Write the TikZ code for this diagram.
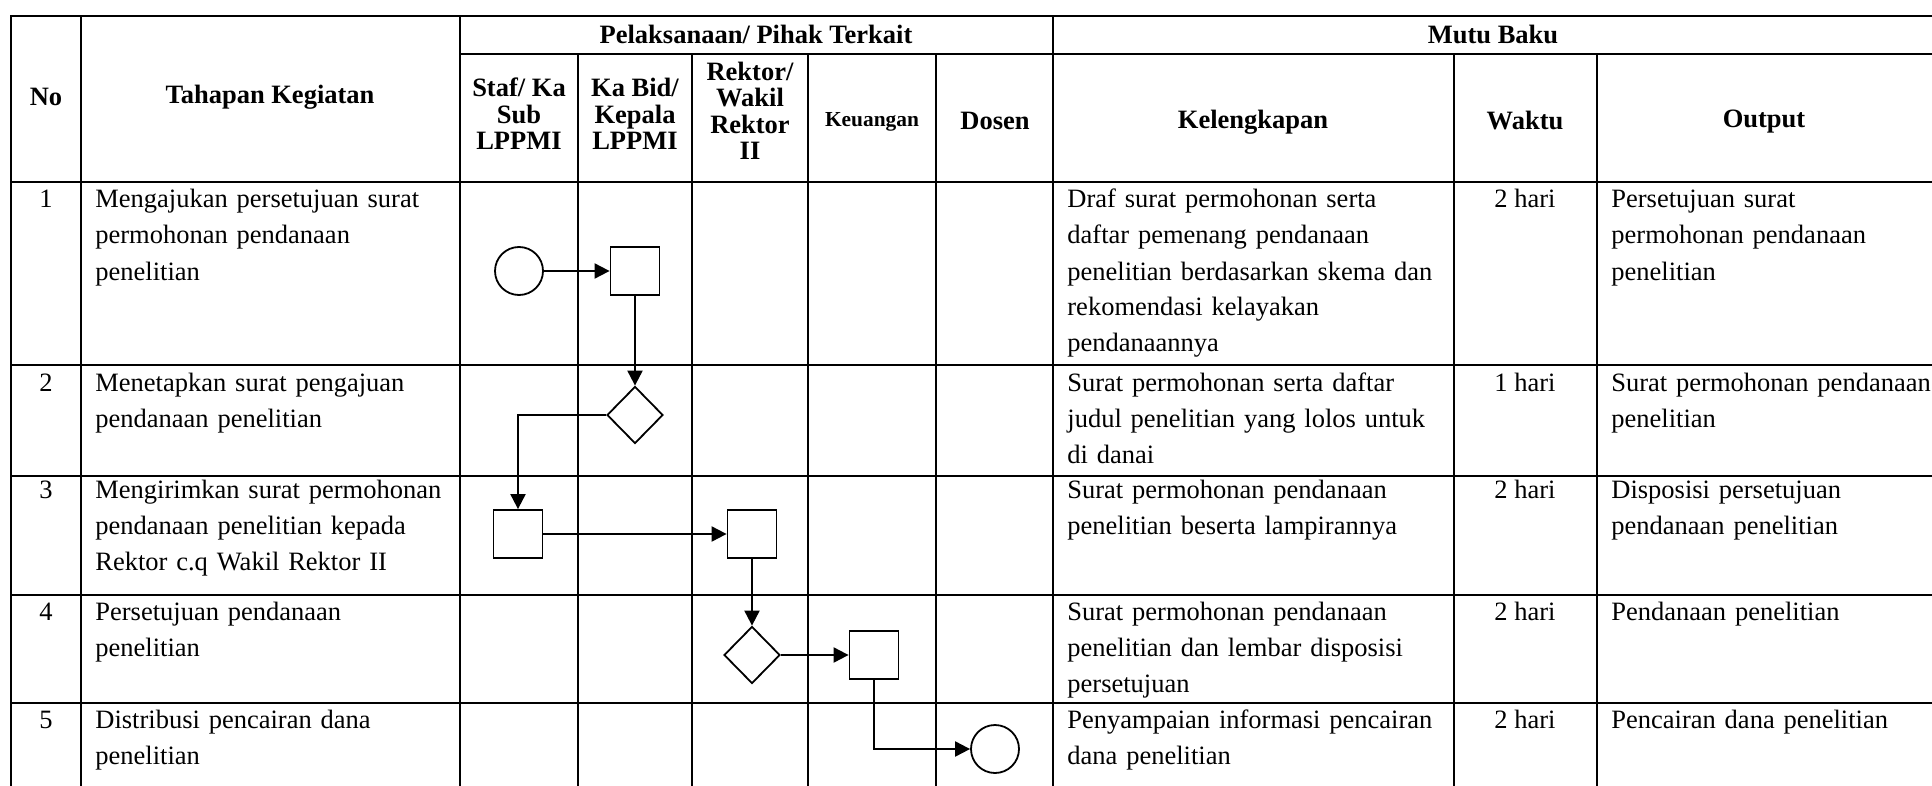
\documentclass[tikz,border=0pt]{standalone}
\usepackage{fontspec}
\setmainfont{Liberation Serif}
\usetikzlibrary{arrows.meta,shapes.geometric}
\newcommand\cellfont{\fontsize{13.25}{18}\selectfont}
\newcommand\headfont{\fontsize{13.25}{13.2}\selectfont\bfseries}
\newcommand\smallheadfont{\fontsize{10.7}{13}\selectfont\bfseries}
\begin{document}
\begin{tikzpicture}[x=0.5pt,y=-0.5pt,
  grid/.style={line width=1.2pt, line cap=rect},
  lefttext/.style={anchor=base west, text width=220pt, align=left, inner sep=0pt, font=\cellfont},
  midtext/.style={anchor=base, inner sep=0pt, font=\cellfont},
  headtext/.style={anchor=center, align=center, inner sep=0pt, font=\headfont},
  sq/.style={draw, line width=0.9pt, rectangle, minimum width=24.5pt, minimum height=24pt, inner sep=0pt},
  dia/.style={draw, line width=0.9pt, diamond, minimum width=28pt, minimum height=28.5pt, inner sep=0pt},
  circ/.style={draw, line width=0.9pt, circle, minimum size=24pt, inner sep=0pt},
  flow/.style={draw, line width=1pt, -{Triangle[length=7.5pt,width=7.5pt]}}
]
\useasboundingbox (0,0) rectangle (1932,786);
\fill[white] (0,0) rectangle (1932,786);

% horizontal lines
\draw[grid] (11,16) -- (1932,16);
\draw[grid] (460,54) -- (1932,54);
\draw[grid] (11,182) -- (1932,182);
\draw[grid] (11,365) -- (1932,365);
\draw[grid] (11,476) -- (1932,476);
\draw[grid] (11,595) -- (1932,595);
\draw[grid] (11,703) -- (1932,703);
% vertical lines
\draw[grid] (11,16) -- (11,786);
\draw[grid] (81,16) -- (81,786);
\draw[grid] (460,16) -- (460,786);
\draw[grid] (578,54) -- (578,786);
\draw[grid] (692,54) -- (692,786);
\draw[grid] (808,54) -- (808,786);
\draw[grid] (936,54) -- (936,786);
\draw[grid] (1053,16) -- (1053,786);
\draw[grid] (1454,54) -- (1454,786);
\draw[grid] (1597,54) -- (1597,786);

% header
\node[headtext] (hNo) at (46,97) {No};
\node[headtext] (hTah) at (270,97) {Tahapan Kegiatan};
\node[headtext] (hPel) at (756,34) {Pelaksanaan/ Pihak Terkait};
\node[headtext] (hMutu) at (1493,34) {Mutu Baku};
\node[headtext] (hStaf) at (519,114) {Staf/ Ka\\Sub\\LPPMI};
\node[headtext] (hKabid) at (635,114) {Ka Bid/\\Kepala\\LPPMI};
\node[headtext] (hRek) at (750,111) {Rektor/\\Wakil\\Rektor\\II};
\node[headtext, font=\smallheadfont] (hKeu) at (872,122) {Keuangan};
\node[headtext] (hDos) at (995,121) {Dosen};
\node[headtext] (hKel) at (1253,122) {Kelengkapan};
\node[headtext] (hWak) at (1525,121) {Waktu};
\node[headtext] (hOut) at (1764,122) {Output};

% row 1
\node[midtext] (n1) at (46,208) {1};
\node[lefttext] (t1) at (95,208) {Mengajukan persetujuan surat\\permohonan pendanaan\\penelitian};
\node[lefttext] (k1) at (1067,208) {Draf surat permohonan serta\\daftar pemenang pendanaan\\penelitian berdasarkan skema dan\\rekomendasi kelayakan\\pendanaannya};
\node[midtext] (w1) at (1525,208) {2 hari};
\node[lefttext] (o1) at (1611,208) {Persetujuan surat\\permohonan pendanaan\\penelitian};
% row 2
\node[midtext] (n2) at (46,391) {2};
\node[lefttext] (t2) at (95,391) {Menetapkan surat pengajuan\\pendanaan penelitian};
\node[lefttext] (k2) at (1067,391) {Surat permohonan serta daftar\\judul penelitian yang lolos untuk\\di danai};
\node[midtext] (w2) at (1525,391) {1 hari};
\node[lefttext] (o2) at (1611,391) {Surat permohonan pendanaan\\penelitian};
% row 3
\node[midtext] (n3) at (46,498) {3};
\node[lefttext] (t3) at (95,498) {Mengirimkan surat permohonan\\pendanaan penelitian kepada\\Rektor c.q Wakil Rektor II};
\node[lefttext] (k3) at (1067,498) {Surat permohonan pendanaan\\penelitian beserta lampirannya};
\node[midtext] (w3) at (1525,498) {2 hari};
\node[lefttext] (o3) at (1611,498) {Disposisi persetujuan\\pendanaan penelitian};
% row 4
\node[midtext] (n4) at (46,620) {4};
\node[lefttext] (t4) at (95,620) {Persetujuan pendanaan\\penelitian};
\node[lefttext] (k4) at (1067,620) {Surat permohonan pendanaan\\penelitian dan lembar disposisi\\persetujuan};
\node[midtext] (w4) at (1525,620) {2 hari};
\node[lefttext] (o4) at (1611,620) {Pendanaan penelitian};
% row 5
\node[midtext] (n5) at (46,728) {5};
\node[lefttext] (t5) at (95,728) {Distribusi pencairan dana\\penelitian};
\node[lefttext] (k5) at (1067,728) {Penyampaian informasi pencairan\\dana penelitian};
\node[midtext] (w5) at (1525,728) {2 hari};
\node[lefttext] (o5) at (1611,728) {Pencairan dana penelitian};

% flow shapes
\node[circ] (c1) at (519,271) {};
\node[sq] (s1) at (635,271) {};
\node[dia] (d1) at (635,415) {};
\node[sq] (s3) at (518,534) {};
\node[sq] (s4) at (752,534) {};
\node[dia] (d2) at (752,655) {};
\node[sq] (s5) at (874,655) {};
\node[circ] (c2) at (995,749) {};

% connectors
\draw[flow] (c1.east) -- (s1.west);
\draw[flow] (s1.south) -- (d1.north);
\draw[flow] (d1.west) -| (s3.north);
\draw[flow] (s3.east) -- (s4.west);
\draw[flow] (s4.south) -- (d2.north);
\draw[flow] (d2.east) -- (s5.west);
\draw[flow] (s5.south) |- (c2.west);
\end{tikzpicture}
\end{document}
